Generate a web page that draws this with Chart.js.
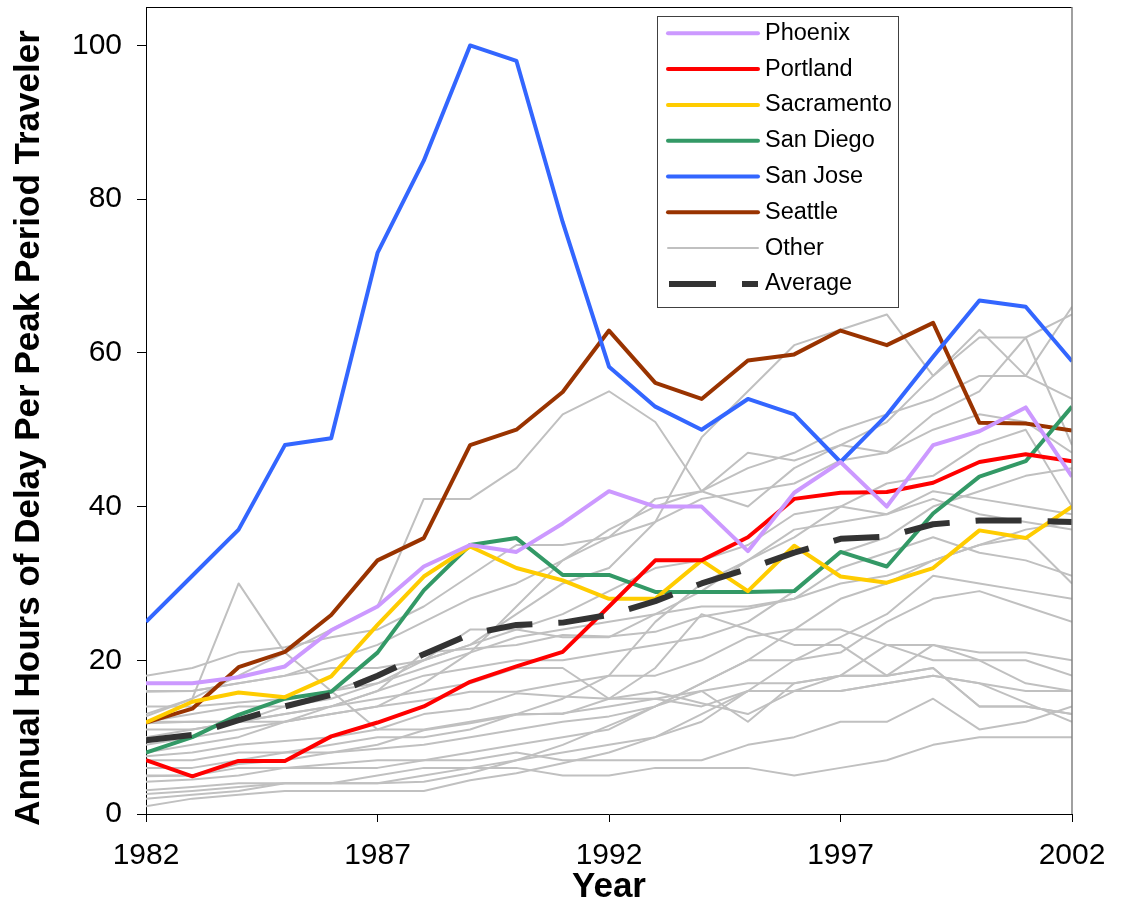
<!DOCTYPE html>
<html>
<head>
<meta charset="utf-8">
<script src="https://cdn.jsdelivr.net/npm/chart.js@4.4.1/dist/chart.umd.min.js"></script>
<style>
html,body{margin:0;padding:0;background:#ffffff;}
#wrap{width:1122px;height:902px;position:relative;}
</style>
</head>
<body>
<div id="wrap"><canvas id="c" width="1122" height="902"></canvas></div>
<script>
// ---------- DATA ----------
const years = [1982,1983,1984,1985,1986,1987,1988,1989,1990,1991,1992,1993,1994,1995,1996,1997,1998,1999,2000,2001,2002];
const xTickValues = [1982,1987,1992,1997,2002];
const yTickValues = [0,20,40,60,80,100];

const phoenix    = [17,17,17.8,19.2,23.9,27,32.2,35,34.1,37.8,42,40,40,34.2,41.8,45.8,40,48,49.8,52.9,43.9];
const portland   = [7,4.9,6.9,6.9,10.1,11.9,14,17.2,19.2,21.1,27,33,33,36,41,41.8,41.9,43.1,45.8,46.8,45.9];
const sacramento = [11.9,14.6,15.8,15.2,17.9,24.6,30.9,34.8,32,30.4,28,28,33,29,34.9,30.9,30.1,32,36.9,35.9,40];
const sanDiego   = [8,10,12.9,15,15.9,21,29.1,35,35.9,31.1,31.1,28.9,28.9,28.9,29,34.1,32.2,39.1,43.9,45.9,53];
const sanJose    = [25,31,37,48,48.9,73,85,100,98,77,58.2,53,50,54,52,45.8,51.9,59.5,66.8,66,58.9];
const seattle    = [11.9,13.7,19.1,21.1,25.9,33,35.9,48,50,54.9,62.9,56.1,54,59,59.8,62.9,61,63.9,50.9,50.8,49.9];
const average    = [9.6,10.3,12.2,14,15.5,18,20.8,23.4,24.6,24.9,25.9,27.7,30,31.9,34,35.8,36.1,37.7,38.2,38.2,38];

const other01 = [18,19,21,21.7,23,24,27,31,35,35,36,38,41,42,43,46,47,50,52,51,47];
const other02 = [16,16,17,18,19,19,20,22,24,26,29,32,33,35,39,40,39,42,41,40,39];
const other03 = [15.9,16,17,18,20,22,25,28,30,33,37,40,42,45,47,50,52,54,57,57,54];
const other04 = [14,14,14.5,15,16,17,19,21,23,24,25,26,29,33,37,38,39,41,39,38,37];
const other05 = [13,15,18,21,24,27,41,41,45,52,55,51,42,47,46,48,47,52,55,62,48];
const other06 = [12.7,15,30,21,16,11,11,12,13,13,15,15,16,17,17,18,18,19,14,14,13];
const other07 = [12,13,14,14,15,17,20,24,24,23,23,26,27,27,28,32,34,36,34,33,31];
const other08 = [12,12,12,12,14,16,18,19,20,20,21,22,23,25,29,34,36,40,42,44,45];
const other09 = [11.8,12,12,13,14,16,21,21.5,22,23.3,23.1,23.7,25.7,26.7,28,30,31,33,35,37,38];
const other10 = [11,11,12,13,14,15,16,17,19,19,15,19,26,24,22,22,18,22,21,21,20];
const other11 = [10,11,12,14,16,18,20,22,26,30,32,38,49,55,61,63,65,57,63,57,66];
const other12 = [9,10,11,12,13,14,14.8,15.9,15.9,17,18,18,20,23,24,24,22,22,20,20,18];
const other13 = [8,9,10,12,13,14,17,21,27,33,36,41,42,40,45,48,51,57,62,62,65];
const other14 = [7.5,8,9,9.5,10,11,13,13.7,15.7,15.3,15,15.9,14.4,13,16,18,22,20,20,17,16];
const other15 = [7,7,8,8,9,10,10,11,13,15,18,25,30,33,36,40,43,44,48,50,40];
const other16 = [6,6,7,8,8,9,10.9,11.8,12.9,13.1,14,15,14,16,16,16,17,18,17,16,16];
const other17 = [5,5,6.5,7,8,8.5,9,10,11,12,12.7,14,16,12,17,18,18,19,14,14,13];
const other18 = [4.9,5,6,6,6.5,7,7,8,9,10,11,14,17,20,24,28,30,33,35,36,30];
const other19 = [4.2,4.5,5,6,6,6,7,7,8,7,7,7,7,9,10,12,12,15,11,12,14];
const other20 = [3.1,3.5,4,4,4,4,4.2,5.3,7,9,11.5,14,17,20,20,21,25,28,29,27,25];
const other21 = [2.6,3,3.5,4,4,4,5,6,7,8,9,10,12,16,20,23,26,31,30,29,28];
const other22 = [2,2.5,3,4,4,5,6,6,6,5,5,6,6,6,5,6,7,9,10,10,10];
const other23 = [1,2,2.5,3,3,3,3,4.4,5.3,6.6,8,10,13,16,16,16,17,18,17,14.5,12];

const otherSeries = [other01,other02,other03,other04,other05,other06,other07,other08,other09,other10,
  other11,other12,other13,other14,other15,other16,other17,other18,other19,other20,other21,other22,other23];

// ---------- BUILD ----------
const FONT = "'Liberation Sans', Arial, Helvetica, sans-serif";
const toXY = arr => arr.map((v, i) => ({x: years[i], y: v}));

const datasets = [];
datasets.push({label:'Average', data:toXY(average), borderColor:'#333333', borderWidth:6,
  borderDash:[46,26], borderCapStyle:'butt', order:0, showInLegend:true, legendIndex:7});
const named = [
  ['Phoenix', phoenix, '#CC99FF'],
  ['Portland', portland, '#FF0000'],
  ['Sacramento', sacramento, '#FFCC00'],
  ['San Diego', sanDiego, '#339966'],
  ['San Jose', sanJose, '#3366FF'],
  ['Seattle', seattle, '#993300']
];
named.forEach((n, i) => datasets.push({label:n[0], data:toXY(n[1]), borderColor:n[2], borderWidth:4,
  order:1, showInLegend:true, legendIndex:i}));
otherSeries.forEach((s, i) => datasets.push({label:'Other', data:toXY(s), borderColor:'#C0C0C0', borderWidth:2,
  order:2, showInLegend:i === 0, legendIndex:6}));

// custom legend box drawn inside the plot (as in the original)
const boxLegend = {
  id: 'boxLegend',
  afterDraw(chart) {
    const ctx = chart.ctx;
    const items = chart.data.datasets.filter(d => d.showInLegend).sort((a,b) => a.legendIndex - b.legendIndex);
    const L = 657.5, T = 16.5, W = 241, H = 291;
    ctx.save();
    ctx.fillStyle = '#ffffff';
    ctx.fillRect(L, T, W, H);
    ctx.strokeStyle = '#404040';
    ctx.lineWidth = 1;
    ctx.strokeRect(L, T, W, H);
    items.forEach((d, i) => {
      const y = 33.3 + i * 35.8;
      ctx.beginPath();
      ctx.strokeStyle = d.borderColor;
      ctx.lineWidth = d.borderWidth;
      ctx.lineCap = d.borderDash ? 'butt' : 'round';
      ctx.setLineDash(d.borderDash ? [47,26] : []);
      ctx.moveTo(d.borderDash ? 669 : 668, y);
      ctx.lineTo(758, y);
      ctx.stroke();
      ctx.setLineDash([]);
      ctx.fillStyle = '#000000';
      ctx.font = '23.5px ' + FONT;
      ctx.textBaseline = 'middle';
      ctx.textAlign = 'left';
      ctx.fillText(d.label, 765, y);
    });
    ctx.restore();
  }
};

// frame (top and right edges of plot area) and y-axis title
const frame = {
  id: 'frame',
  afterDatasetsDraw(chart) {
    const {ctx, chartArea: a} = chart;
    ctx.save();
    ctx.strokeStyle = '#000000';
    ctx.lineWidth = 1;
    ctx.beginPath();
    ctx.moveTo(a.left, a.top + 0.5);
    ctx.lineTo(a.right, a.top + 0.5);
    ctx.stroke();
    ctx.strokeStyle = '#808080';
    ctx.lineWidth = 1.5;
    ctx.beginPath();
    ctx.moveTo(a.right, a.top);
    ctx.lineTo(a.right, a.bottom);
    ctx.stroke();
    ctx.restore();
  },
  afterDraw(chart) {
    const ctx = chart.ctx;
    ctx.save();
    ctx.translate(29, 428);
    ctx.rotate(-Math.PI / 2);
    ctx.fillStyle = '#000000';
    ctx.font = 'bold 35px ' + FONT;
    ctx.textAlign = 'center';
    ctx.textBaseline = 'middle';
    ctx.fillText('Annual Hours of Delay Per Peak Period Traveler', 0, 0);
    ctx.restore();
  }
};

new Chart(document.getElementById('c'), {
  type: 'line',
  data: { datasets },
  options: {
    responsive: false,
    animation: false,
    events: [],
    layout: { padding: { left: 0, right: 50, top: 7, bottom: 0 } },
    elements: {
      point: { radius: 0 },
      line: { tension: 0, fill: false, borderJoinStyle: 'round' }
    },
    plugins: {
      legend: { display: false },
      tooltip: { enabled: false },
      title: { display: false }
    },
    scales: {
      x: {
        type: 'linear',
        min: 1982, max: 2002,
        afterBuildTicks: s => { s.ticks = xTickValues.map(v => ({value: v})); },
        afterFit: s => { s.height = 88; s.paddingLeft = 0; s.paddingRight = 0; },
        ticks: { callback: v => String(v), color: '#000', font: { family: FONT, size: 30 }, padding: 16, maxRotation: 0, autoSkip: false },
        grid: { drawOnChartArea: false, drawTicks: true, tickLength: 8, color: '#000000' },
        border: { display: true, color: '#000000', width: 1 },
        title: { display: true, text: 'Year', color: '#000', font: { family: FONT, size: 35, weight: 'bold', lineHeight: 1 }, padding: { top: 0, bottom: -3 } }
      },
      y: {
        type: 'linear',
        min: 0, max: 105,
        afterBuildTicks: s => { s.ticks = yTickValues.map(v => ({value: v})); },
        afterFit: s => { s.width = 146; s.paddingTop = 0; s.paddingBottom = 0; },
        ticks: { callback: v => String(v), color: '#000', font: { family: FONT, size: 30 }, padding: 15 },
        grid: { drawOnChartArea: false, drawTicks: true, tickLength: 9, color: '#000000' },
        border: { display: true, color: '#000000', width: 1 }
      }
    }
  },
  plugins: [frame, boxLegend]
});
</script>
</body>
</html>
